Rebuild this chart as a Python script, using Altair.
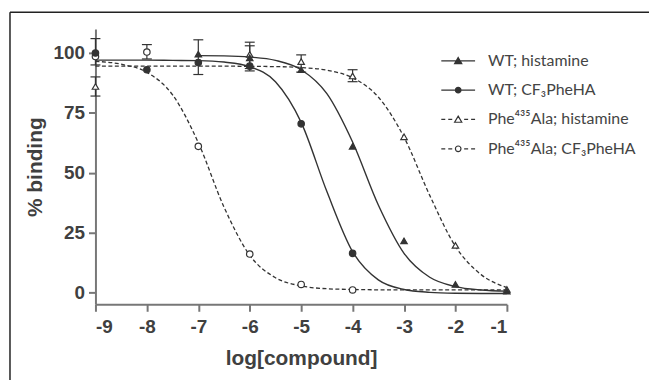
import altair as alt
import pandas as pd

# ---------------- data ----------------
series_names = ["WT; histamine", "WT; CF₃PheHA", "Phe⁴³⁵Ala; histamine", "Phe⁴³⁵Ala; CF₃PheHA"]

# fitted curves
curve_x = [-9, -8.5, -8, -7.5, -7, -6.5, -6, -5.5, -5, -4.5, -4, -3.5, -3, -2.5, -2, -1.5, -1]
curve_wt_cf3 = [97.0, 97.0, 97.0, 96.9, 96.8, 96.2, 94.3, 88.0, 71.0, 42.1, 17.0, 5.2, 1.2, 0.0, -0.4, -0.5, -0.5]
curve_phe_cf3 = [96.5, 95.3, 91.9, 82.5, 62.5, 35.6, 15.5, 6.1, 2.7, 1.5, 1.2, 1.05, 1.0, 1.0, 1.0, 1.0, 1.0]
curve_phe_his = [94.5, 94.5, 94.5, 94.5, 94.5, 94.5, 94.4, 94.3, 93.9, 92.8, 89.6, 81.6, 64.8, 40.5, 19.2, 7.4, 2.0]
curve_wt_his_x = [-7, -6.5, -6, -5.5, -5, -4.5, -4, -3.5, -3, -2.5, -2, -1.5, -1]
curve_wt_his = [98.9, 98.8, 98.3, 96.9, 93.0, 83.0, 62.8, 36.5, 16.3, 6.3, 2.4, 1.0, 0.5]

# measured points
wt_his_x = [-7, -6, -5, -4, -3, -2, -1]
wt_his_y = [99.5, 98.0, 93.0, 61.0, 21.5, 3.3, 0.5]
wt_cf3_x = [-9, -8, -7, -6, -5, -4]
wt_cf3_y = [100.0, 93.0, 96.0, 94.5, 70.4, 16.3]
phe_his_x = [-9, -6, -5, -4, -3, -2, -1]
phe_his_y = [86.0, 99.4, 96.4, 90.4, 65.0, 19.6, 1.2]
phe_cf3_x = [-9, -8, -7, -6, -5, -4]
phe_cf3_y = [98.5, 100.4, 61.0, 16.0, 3.3, 1.0]

# error bars
eb_x = [-9, -9, -8, -7, -6, -6, -5, -4]
eb_lo = [95.0, 82.0, 97.5, 91.0, 92.5, 93.5, 92.0, 88.0]
eb_hi = [106.0, 90.0, 103.5, 105.5, 104.5, 103.0, 99.2, 93.0]

x_ticks = [-9, -8, -7, -6, -5, -4, -3, -2, -1]
y_ticks = [0, 25, 50, 75, 100]

# ---------------- tables ----------------
curves = pd.concat([
    pd.DataFrame({"x": curve_wt_his_x, "y": curve_wt_his, "series": series_names[0], "dashed": False}),
    pd.DataFrame({"x": curve_x, "y": curve_wt_cf3, "series": series_names[1], "dashed": False}),
    pd.DataFrame({"x": curve_x, "y": curve_phe_his, "series": series_names[2], "dashed": True}),
    pd.DataFrame({"x": curve_x, "y": curve_phe_cf3, "series": series_names[3], "dashed": True}),
])
pts = {
    series_names[0]: pd.DataFrame({"x": wt_his_x, "y": wt_his_y}),
    series_names[1]: pd.DataFrame({"x": wt_cf3_x, "y": wt_cf3_y}),
    series_names[2]: pd.DataFrame({"x": phe_his_x, "y": phe_his_y}),
    series_names[3]: pd.DataFrame({"x": phe_cf3_x, "y": phe_cf3_y}),
}
errs = pd.DataFrame({"x": eb_x, "lo": eb_lo, "hi": eb_hi})

INK = "#333333"
AXC = "#777777"
TXT = "#404040"
FONT = "Liberation Sans"

xscale = alt.Scale(domain=[-9, -1], nice=False, zero=False)
yscale = alt.Scale(domain=[-5, 110], nice=False, zero=False)

xaxis = alt.Axis(values=x_ticks, labelExpr="'' + datum.value", title="log[compound]",
                 tickSize=7, labelPadding=6, titlePadding=12)
yaxis = alt.Axis(values=y_ticks, title="% binding", tickSize=7, labelPadding=4, titlePadding=8)

X = alt.X("x:Q", scale=xscale, axis=xaxis)
Y = alt.Y("y:Q", scale=yscale, axis=yaxis)

solid = alt.Chart(curves).transform_filter("!datum.dashed").mark_line(
    interpolate="monotone", color=INK, strokeWidth=1.4
).encode(x=X, y=Y, detail="series:N")

dashed = alt.Chart(curves).transform_filter("datum.dashed").mark_line(
    interpolate="monotone", color=INK, strokeWidth=1.3, strokeDash=[4, 2.5]
).encode(x=X, y=Y, detail="series:N")

ebar = alt.Chart(errs).mark_rule(color=INK, strokeWidth=1.2).encode(
    x=alt.X("x:Q", scale=xscale, axis=xaxis), y=alt.Y("lo:Q", scale=yscale, axis=yaxis), y2="hi:Q")
cap_hi = alt.Chart(errs).mark_rule(color=INK, strokeWidth=1.2, xOffset=-5, x2Offset=5).encode(
    x=alt.X("x:Q", scale=xscale, axis=xaxis), x2="x:Q", y=alt.Y("hi:Q", scale=yscale, axis=yaxis))
cap_lo = alt.Chart(errs).mark_rule(color=INK, strokeWidth=1.2, xOffset=-5, x2Offset=5).encode(
    x=alt.X("x:Q", scale=xscale, axis=xaxis), x2="x:Q", y=alt.Y("lo:Q", scale=yscale, axis=yaxis))


def points(name, shape, fill):
    return alt.Chart(pts[name]).mark_point(
        shape=shape, filled=True, fill=fill, stroke=INK, strokeWidth=1.2, size=42, opacity=1
    ).encode(x=X, y=Y)


p_open_tri = points(series_names[2], "triangle-up", "white")
p_open_circ = points(series_names[3], "circle", "white")
p_tri = points(series_names[0], "triangle-up", INK)
p_circ = points(series_names[1], "circle", INK)

# legend (built by Vega-Lite's own legend, custom symbol paths)
tri = "M0,-0.34L0.36,0.28L-0.36,0.28Z"
circ = "M0.28,0A0.28,0.28 0 1,1 -0.28,0A0.28,0.28 0 1,1 0.28,0Z"
solid_line = "M-1.7,0H1.7"
dash_line = "M-1.7,0H-1.3M-1.0,0H-0.6M0.6,0H1.0M1.3,0H1.7"
legend_paths = [solid_line + tri, solid_line + circ, dash_line + tri, dash_line + circ]
legend_fills = [INK, INK, "white", "white"]
legend_strokes = [INK, INK, INK, INK]

leg = alt.Legend(orient="none", legendX=354, legendY=21, title=None, padding=0,
                 symbolSize=400, symbolStrokeColor=INK, symbolStrokeWidth=1.2, symbolOpacity=1,
                 labelFont="Lato", labelFontSize=16, labelColor="#444444", labelOffset=19,
                 rowPadding=10.5, labelLimit=400)

legend_layer = alt.Chart(pd.DataFrame({"series": series_names})).transform_filter("false").mark_point(
    filled=True, strokeWidth=1.2
).encode(
    x=alt.value(0), y=alt.value(0),
    shape=alt.Shape("series:N", scale=alt.Scale(domain=series_names, range=legend_paths), legend=leg),
    fill=alt.Fill("series:N", scale=alt.Scale(domain=series_names, range=legend_fills), legend=leg),
    stroke=alt.Stroke("series:N", scale=alt.Scale(domain=series_names, range=legend_strokes), legend=leg),
)

# outer frame (top and left edges visible in the reference)
frame_df = pd.DataFrame({"k": [0]})
frame_left = alt.Chart(frame_df).mark_rule(color="#222222", strokeWidth=1.5).encode(
    x=alt.value(-86), y=alt.value(-17), y2=alt.value(400))
frame_top = alt.Chart(frame_df).mark_rule(color="#222222", strokeWidth=1.5).encode(
    x=alt.value(-86), x2=alt.value(700), y=alt.value(-17))

chart = alt.layer(
    frame_left, frame_top, solid, dashed, ebar, cap_hi, cap_lo,
    p_open_tri, p_open_circ, p_tri, p_circ, legend_layer
).properties(
    width=414, height=277,
    padding={"left": 88, "top": 20, "right": 143, "bottom": 75},
    autosize=alt.AutoSizeParams(type="none"),
).configure_view(stroke=None).configure_axis(
    grid=False, domainColor=AXC, domainWidth=2, tickColor=AXC, tickWidth=2,
    labelFont=FONT, labelFontWeight="bold", labelFontSize=19, labelColor=TXT,
    titleFont=FONT, titleFontWeight="bold", titleFontSize=21, titleColor=TXT,
)

chart.save("out.html", embed_options={"renderer": "svg", "actions": False})
